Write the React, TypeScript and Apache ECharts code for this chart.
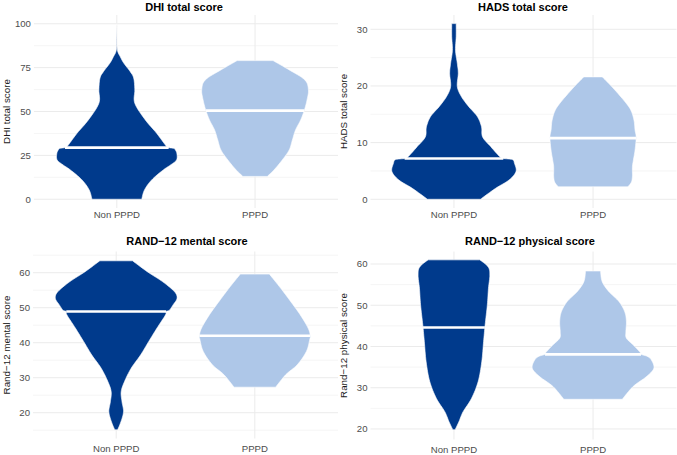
import { useEffect, useRef } from "react";
import * as echarts from "echarts";

// ---------- data ----------
const groups = ["Non PPPD", "PPPD"];
const panelTitles = ["DHI total score", "HADS total score", "RAND\u221212 mental score", "RAND\u221212 physical score"];
const axisTitles = ["DHI total score", "HADS total score", "Rand\u221212 mental score", "Rand\u221212 physical score"];

// tick labels (major) and minor grid values
const dhiTicks = [0, 25, 50, 75, 100];
const dhiMinor = [12.5, 37.5, 62.5, 87.5];
const hadsTicks = [0, 10, 20, 30];
const hadsMinor = [5, 15, 25];
const mentalTicks = [20, 30, 40, 50, 60];
const mentalMinor = [15, 25, 35, 45, 55, 65];
const physicalTicks = [20, 30, 40, 50, 60];
const physicalMinor = [25, 35, 45, 55];

// axis ranges (with ggplot expansion)
const dhiRange = [-5, 105];
const hadsRange = [-1.54, 32.52];
const mentalRange = [12.63, 66.06];
const physicalRange = [17.45, 63.03];

// medians
const dhiMedians = [29.4, 50.5];
const hadsMedians = [7.2, 10.8];
const mentalMedians = [48.9, 42.0];
const physicalMedians = [44.6, 38.1];

// violin density profiles: score values and half-widths (x-axis units)
const dhiNonY = [0, 5.3, 11, 16.7, 19.6, 22.4, 26.2, 28.5, 29, 29.4, 30, 37.6, 45.2, 54.7, 62.3, 69, 72.8, 77.6, 81, 85, 92, 100];
const dhiNonW = [0.18, 0.2, 0.252, 0.336, 0.39, 0.432, 0.434, 0.42, 0.41, 0.375, 0.36, 0.288, 0.206, 0.13, 0.13, 0.122, 0.096, 0.05, 0.026, 0.004, 0.001, 0];
const dhiPppdY = [13, 16.7, 22.4, 28.1, 33.8, 39.5, 45.2, 50.9, 56.6, 62.4, 68, 73.8, 79];
const dhiPppdW = [0.088, 0.137, 0.197, 0.247, 0.27, 0.293, 0.33, 0.357, 0.376, 0.386, 0.36, 0.245, 0.13];

const hadsNonY = [0, 1.94, 3.4, 4.9, 6.35, 7.0, 7.2, 7.5, 9.3, 11.0, 12.8, 14.6, 16.3, 18.1, 19.9, 22.2, 24.0, 26.3, 28.7, 31];
const hadsNonW = [0.19, 0.3, 0.396, 0.446, 0.435, 0.42, 0.355, 0.33, 0.264, 0.206, 0.198, 0.168, 0.108, 0.054, 0.024, 0.031, 0.024, 0.011, 0.016, 0.016];
const hadsPppdY = [2.2, 3.0, 4.0, 5.75, 6.9, 8.7, 10.9, 12.2, 14.0, 15.8, 17.5, 19.9, 21.6];
const hadsPppdW = [0.25, 0.275, 0.283, 0.283, 0.29, 0.302, 0.31, 0.302, 0.294, 0.27, 0.22, 0.134, 0.066];

const mentalNonY = [15.1, 17.4, 20.3, 23.1, 26, 28.9, 32.7, 36.5, 40.3, 44.1, 47.9, 48.9, 49.3, 50.8, 52.7, 54.6, 57.4, 60.3, 63.4];
const mentalNonW = [0.01, 0.034, 0.053, 0.042, 0.036, 0.06, 0.108, 0.176, 0.234, 0.293, 0.355, 0.36, 0.384, 0.41, 0.439, 0.42, 0.336, 0.224, 0.118];
const mentalPppdY = [27.3, 30.9, 33.7, 37.5, 40.9, 42, 44.2, 48, 51.8, 55.6, 59.6];
const mentalPppdW = [0.15, 0.224, 0.306, 0.372, 0.396, 0.4, 0.384, 0.327, 0.258, 0.186, 0.105];

const physicalNonY = [19.8, 21.8, 24.2, 27.4, 31.5, 36.3, 41.2, 45.2, 50.1, 54.1, 57.3, 59.3, 61];
const physicalNonW = [0.008, 0.036, 0.066, 0.126, 0.174, 0.2, 0.213, 0.224, 0.24, 0.248, 0.258, 0.246, 0.186];
const physicalPppdY = [27.2, 30.3, 32.7, 34.7, 36.7, 37.6, 38.1, 38.6, 40.4, 42, 43.6, 46, 48.4, 50.9, 53.3, 55.7, 58.3];
const physicalPppdW = [0.21, 0.288, 0.384, 0.437, 0.42, 0.39, 0.345, 0.338, 0.288, 0.24, 0.236, 0.24, 0.228, 0.186, 0.114, 0.066, 0.054];

const groupColors = ["#003A8C", "#AEC7E8"];

// ---------- layout ----------
const layouts = [
  { left: 32, top: 15, width: 306, height: 193, titleX: 184, titleY: 6.5, labelMargin: 1 },
  { left: 370.5, top: 15, width: 306, height: 193, titleX: 523, titleY: 6.5, labelMargin: 1 },
  { left: 32, top: 251.5, width: 306, height: 187, titleX: 187, titleY: 240.5, labelMargin: 5 },
  { left: 370.5, top: 251.5, width: 306, height: 188, titleX: 530, titleY: 240.5, labelMargin: 5 },
];

const FONT = "'Liberation Sans', Arial, Helvetica, sans-serif";

function smoothSide(pts: number[][], steps = 8): number[][] {
  const out: number[][] = [];
  const n = pts.length;
  for (let i = 0; i < n - 1; i++) {
    const p0 = pts[Math.max(0, i - 1)];
    const p1 = pts[i];
    const p2 = pts[i + 1];
    const p3 = pts[Math.min(n - 1, i + 2)];
    for (let s = 0; s < steps; s++) {
      const t = s / steps;
      const t2 = t * t;
      const t3 = t2 * t;
      const f = (a: number, b: number, c: number, d: number) =>
        0.5 * (2 * b + (-a + c) * t + (2 * a - 5 * b + 4 * c - d) * t2 + (-a + 3 * b - 3 * c + d) * t3);
      out.push([f(p0[0], p1[0], p2[0], p3[0]), f(p0[1], p1[1], p2[1], p3[1])]);
    }
  }
  out.push(pts[n - 1]);
  return out;
}

function interp(ys: number[], ws: number[], v: number): number {
  for (let i = 0; i < ys.length - 1; i++) {
    if (v >= ys[i] && v <= ys[i + 1]) {
      const t = (v - ys[i]) / (ys[i + 1] - ys[i]);
      return ws[i] + t * (ws[i + 1] - ws[i]);
    }
  }
  return 0;
}

export default function App() {
  const ref = useRef<HTMLDivElement>(null);

  useEffect(() => {
    if (!ref.current) return;
    const chart = echarts.init(ref.current, null, { renderer: "svg" });

    const panels = [
      { ticks: dhiTicks, minor: dhiMinor, range: dhiRange, medians: dhiMedians, ys: [dhiNonY, dhiPppdY], ws: [dhiNonW, dhiPppdW] },
      { ticks: hadsTicks, minor: hadsMinor, range: hadsRange, medians: hadsMedians, ys: [hadsNonY, hadsPppdY], ws: [hadsNonW, hadsPppdW] },
      { ticks: mentalTicks, minor: mentalMinor, range: mentalRange, medians: mentalMedians, ys: [mentalNonY, mentalPppdY], ws: [mentalNonW, mentalPppdW] },
      { ticks: physicalTicks, minor: physicalMinor, range: physicalRange, medians: physicalMedians, ys: [physicalNonY, physicalPppdY], ws: [physicalNonW, physicalPppdW] },
    ];

    const grid = layouts.map((l) => ({ left: l.left, top: l.top, width: l.width, height: l.height, containLabel: false }));

    const xAxis = layouts.map((l, i) => ({
      type: "value",
      gridIndex: i,
      min: 0.4,
      max: 2.6,
      axisLine: { show: false },
      axisTick: { show: false },
      splitLine: { show: false },
      axisLabel: {
        customValues: [1, 2],
        formatter: (v: number) => groups[Math.round(v) - 1] ?? "",
        color: "#4D4D4D",
        fontSize: 9.6,
        fontFamily: FONT,
        margin: l.labelMargin,
      },
    }));

    const yAxis = panels.map((p, i) => ({
      type: "value",
      gridIndex: i,
      min: p.range[0],
      max: p.range[1],
      axisLine: { show: false },
      axisTick: { show: false },
      splitLine: { show: false },
      axisLabel: {
        customValues: p.ticks,
        color: "#4D4D4D",
        fontSize: 9.6,
        fontFamily: FONT,
        margin: 3,
      },
      name: axisTitles[i],
      nameLocation: "middle",
      nameRotate: 90,
      nameGap: 22,
      nameTextStyle: { fontSize: 9.8, color: "#1A1A1A", fontFamily: FONT },
    }));

    const series: any[] = [];
    panels.forEach((p, i) => {
      // minor horizontal grid
      series.push({
        type: "custom",
        xAxisIndex: i,
        yAxisIndex: i,
        silent: true,
        z: 1,
        dimensions: ["value"],
        encode: { y: 0 },
        data: p.minor.map((v) => [v]),
        renderItem: (params: any, api: any) => {
          const cs = params.coordSys;
          const y = api.coord([1, api.value(0)])[1];
          return { type: "line", shape: { x1: cs.x, y1: y, x2: cs.x + cs.width, y2: y }, style: { stroke: "#EFEFEF", lineWidth: 0.6 } };
        },
      });
      // major horizontal grid
      series.push({
        type: "custom",
        xAxisIndex: i,
        yAxisIndex: i,
        silent: true,
        z: 2,
        dimensions: ["value"],
        encode: { y: 0 },
        data: p.ticks.map((v) => [v]),
        renderItem: (params: any, api: any) => {
          const cs = params.coordSys;
          const y = api.coord([1, api.value(0)])[1];
          return { type: "line", shape: { x1: cs.x, y1: y, x2: cs.x + cs.width, y2: y }, style: { stroke: "#EBEBEB", lineWidth: 1 } };
        },
      });
      // vertical grid at groups
      series.push({
        type: "custom",
        xAxisIndex: i,
        yAxisIndex: i,
        silent: true,
        z: 2,
        dimensions: ["group"],
        encode: { x: 0 },
        data: groups.map((_, gi) => [gi + 1]),
        renderItem: (params: any, api: any) => {
          const cs = params.coordSys;
          const x = api.coord([api.value(0), p.range[0]])[0];
          return { type: "line", shape: { x1: x, y1: cs.y, x2: x, y2: cs.y + cs.height }, style: { stroke: "#EBEBEB", lineWidth: 1 } };
        },
      });
      // violins
      series.push({
        type: "custom",
        xAxisIndex: i,
        yAxisIndex: i,
        z: 5,
        dimensions: ["group", "median"],
        encode: { x: 0, y: 1 },
        data: groups.map((_, gi) => [gi + 1, p.medians[gi]]),
        renderItem: (params: any, api: any) => {
          const gi = params.dataIndex;
          const cx = api.value(0);
          const ys = p.ys[gi];
          const ws = p.ws[gi];
          const right = ys.map((y, k) => api.coord([cx + ws[k], y]));
          const left = ys.map((y, k) => api.coord([cx - ws[k], y]));
          const rs = smoothSide(right);
          const ls = smoothSide(left).reverse();
          const points = rs.concat(ls);
          const med = api.value(1);
          const hw = interp(ys, ws, med);
          const a = api.coord([cx - hw, med]);
          const b = api.coord([cx + hw, med]);
          return {
            type: "group",
            children: [
              { type: "polygon", shape: { points }, style: { fill: groupColors[gi], stroke: "#FFFFFF", lineWidth: 0.6 } },
              { type: "line", shape: { x1: a[0], y1: a[1], x2: b[0], y2: b[1] }, style: { stroke: "#FFFFFF", lineWidth: 2.6 } },
            ],
          };
        },
      });
    });

    const graphic = layouts.map((l, i) => ({
      type: "text",
      x: l.titleX,
      y: l.titleY,
      style: {
        text: panelTitles[i],
        fontSize: 11,
        fontWeight: "bold",
        fontFamily: FONT,
        fill: "#000000",
        align: "center",
        verticalAlign: "middle",
      },
    }));

    chart.setOption({
      animation: false,
      backgroundColor: "#FFFFFF",
      textStyle: { fontFamily: FONT },
      grid,
      xAxis,
      yAxis,
      series,
      graphic,
    });

    return () => chart.dispose();
  }, []);

  return <div ref={ref} style={{ position: "fixed", left: 0, top: 0, width: 677, height: 455 }} />;
}
